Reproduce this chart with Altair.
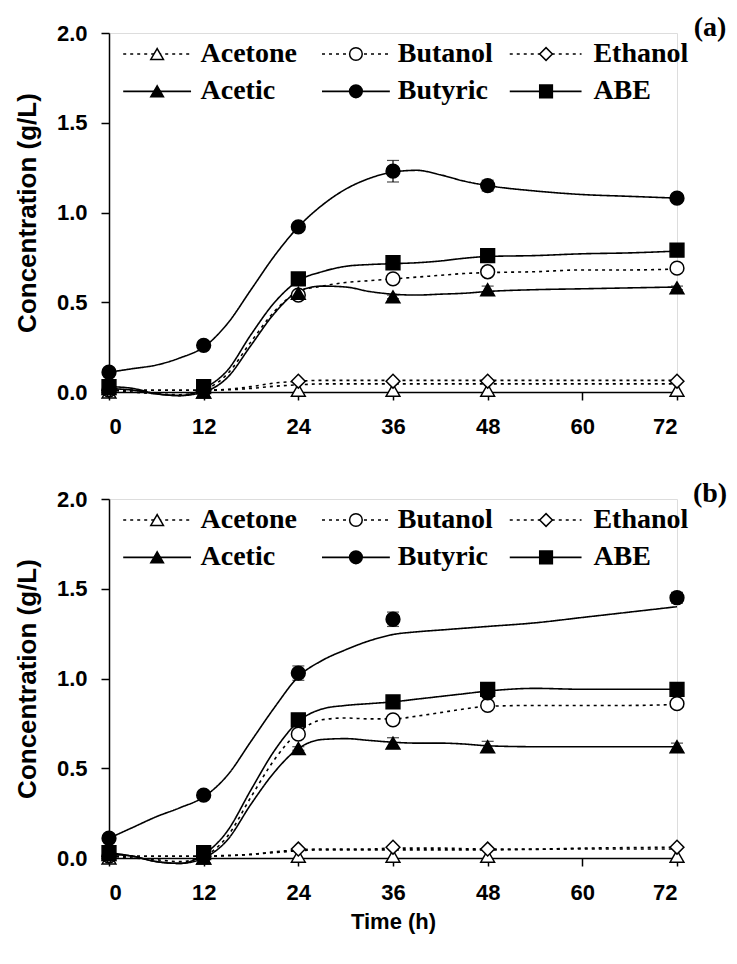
import altair as alt
import pandas as pd

# ---------------- data ----------------
series = ["Acetone", "Butanol", "Ethanol", "Acetic", "Butyric", "ABE"]
times = [0, 12, 24, 36, 48, 72]

# measured points, panel (a)
a_acetone = [0.00, 0.00, 0.01, 0.01, 0.01, 0.01]
a_butanol = [0.01, 0.01, 0.54, 0.63, 0.67, 0.69]
a_ethanol = [0.01, 0.01, 0.06, 0.06, 0.06, 0.06]
a_acetic = [0.02, 0.00, 0.55, 0.53, 0.57, 0.58]
a_butyric = [0.11, 0.26, 0.92, 1.23, 1.15, 1.08]
a_abe = [0.03, 0.03, 0.63, 0.72, 0.76, 0.79]
a_butanol_err = [0.0, 0.0, 0.01, 0.02, 0.01, 0.01]
a_acetic_err = [0.0, 0.0, 0.01, 0.01, 0.02, 0.01]
a_butyric_err = [0.01, 0.01, 0.02, 0.06, 0.03, 0.02]
a_abe_err = [0.0, 0.01, 0.01, 0.02, 0.01, 0.02]

# measured points, panel (b)
b_acetone = [0.00, 0.00, 0.01, 0.01, 0.01, 0.01]
b_butanol = [0.01, 0.01, 0.69, 0.77, 0.85, 0.86]
b_ethanol = [0.01, 0.01, 0.05, 0.06, 0.05, 0.06]
b_acetic = [0.02, 0.00, 0.61, 0.64, 0.62, 0.62]
b_butyric = [0.11, 0.35, 1.03, 1.33, 0.92, 1.45]
b_abe = [0.03, 0.03, 0.77, 0.87, 0.94, 0.94]
b_butanol_err = [0.0, 0.0, 0.01, 0.01, 0.01, 0.01]
b_acetic_err = [0.0, 0.0, 0.01, 0.03, 0.03, 0.02]
b_butyric_err = [0.01, 0.02, 0.04, 0.04, 0.02, 0.03]
b_abe_err = [0.0, 0.01, 0.01, 0.02, 0.02, 0.02]

# fitted curves
fit_t = [0, 3, 6, 9, 12, 15, 18, 21, 24, 27, 30, 33, 36, 39, 42, 45, 48, 54, 60, 66, 72]
a_fit_acetone = [0.01, 0.01, 0.01, 0.01, 0.01, 0.012, 0.02, 0.032, 0.04, 0.045, 0.045, 0.045, 0.045, 0.045, 0.045, 0.045, 0.045, 0.045, 0.045, 0.045, 0.045]
a_fit_butanol = [0.01, 0.00, -0.01, -0.015, 0.01, 0.10, 0.28, 0.45, 0.56, 0.59, 0.61, 0.62, 0.63, 0.64, 0.65, 0.66, 0.665, 0.67, 0.68, 0.68, 0.685]
a_fit_ethanol = [0.01, 0.01, 0.01, 0.01, 0.01, 0.015, 0.03, 0.05, 0.06, 0.065, 0.065, 0.065, 0.065, 0.065, 0.065, 0.065, 0.065, 0.065, 0.065, 0.065, 0.065]
a_fit_acetic = [0.02, 0.01, -0.01, -0.02, 0.00, 0.08, 0.26, 0.44, 0.56, 0.59, 0.585, 0.56, 0.545, 0.54, 0.545, 0.55, 0.56, 0.57, 0.575, 0.58, 0.585]
a_fit_butyric = [0.11, 0.13, 0.15, 0.19, 0.25, 0.38, 0.57, 0.76, 0.92, 1.04, 1.13, 1.19, 1.225, 1.235, 1.21, 1.175, 1.15, 1.12, 1.10, 1.09, 1.08]
a_fit_abe = [0.03, 0.02, -0.01, -0.02, 0.02, 0.12, 0.32, 0.50, 0.62, 0.67, 0.70, 0.71, 0.715, 0.72, 0.73, 0.745, 0.755, 0.76, 0.77, 0.775, 0.785]

b_fit_acetone = [0.01, 0.01, 0.01, 0.01, 0.01, 0.012, 0.02, 0.03, 0.04, 0.045, 0.045, 0.045, 0.045, 0.045, 0.045, 0.045, 0.045, 0.048, 0.05, 0.05, 0.05]
b_fit_butanol = [0.01, 0.00, -0.01, -0.02, 0.01, 0.12, 0.34, 0.55, 0.70, 0.77, 0.78, 0.775, 0.775, 0.79, 0.81, 0.83, 0.845, 0.85, 0.85, 0.85, 0.855]
b_fit_ethanol = [0.01, 0.01, 0.01, 0.01, 0.01, 0.015, 0.02, 0.035, 0.045, 0.05, 0.05, 0.05, 0.055, 0.055, 0.055, 0.052, 0.05, 0.05, 0.055, 0.058, 0.06]
b_fit_acetic = [0.02, 0.01, -0.02, -0.03, 0.00, 0.10, 0.30, 0.48, 0.61, 0.66, 0.665, 0.655, 0.645, 0.64, 0.64, 0.635, 0.625, 0.62, 0.62, 0.62, 0.62]
b_fit_butyric = [0.11, 0.17, 0.23, 0.28, 0.34, 0.46, 0.65, 0.84, 1.01, 1.10, 1.16, 1.21, 1.245, 1.26, 1.27, 1.28, 1.29, 1.31, 1.34, 1.37, 1.40]
b_fit_abe = [0.03, 0.01, -0.02, -0.03, 0.02, 0.15, 0.38, 0.60, 0.76, 0.83, 0.85, 0.86, 0.87, 0.885, 0.90, 0.915, 0.93, 0.945, 0.94, 0.94, 0.94]

x_ticks = [0, 12, 24, 36, 48, 60, 72]
y_ticks = [0.0, 0.5, 1.0, 1.5, 2.0]

# legend layout (data space of each panel)
legend_rows = [1.883, 1.675]
legend_cols = [(1.8, 10.4, 6.1, 11.6), (27.0, 35.6, 31.3, 36.6), (50.8, 59.9, 55.4, 61.4)]

# ---------------- styles ----------------
SHAPES = ["triangle-up", "circle", "diamond", "triangle-up", "circle", "square"]
FILLS = ["white", "white", "white", "black", "black", "black"]
DASHES = [[3, 4], [3, 4], [3, 4], [1, 0], [1, 0], [1, 0]]
SANS = "Liberation Sans"
SERIF = "Liberation Serif"

shape_scale = alt.Scale(domain=series, range=SHAPES)
fill_scale = alt.Scale(domain=series, range=FILLS)
dash_scale = alt.Scale(domain=series, range=DASHES)

W, H = 568, 359


def long_points(vals, errs):
    rows = []
    for s, v in zip(series, vals):
        e = errs.get(s, [0] * len(times))
        for t, y, err in zip(times, v, e):
            rows.append({"series": s, "t": t, "y": y, "lo": y - err, "hi": y + err, "err": err})
    return pd.DataFrame(rows)


def long_fit(vals):
    rows = []
    for s, v in zip(series, vals):
        for t, y in zip(fit_t, v):
            rows.append({"series": s, "t": t, "y": y})
    return pd.DataFrame(rows)


legend_rows_data = []
for i, s in enumerate(series):
    r = legend_rows[i // 3]
    c = legend_cols[i % 3]
    legend_rows_data.append({"series": s, "x0": c[0], "x1": c[1], "xs": c[2], "xt": c[3], "ly": r})
legend_df = pd.DataFrame(legend_rows_data)


def panel(points, fits, tag, show_xtitle):
    xs = alt.Scale(domain=[0, 72], nice=False)
    ys = alt.Scale(domain=[0, 2], nice=False)
    x_axis = alt.Axis(values=x_ticks, title="Time (h)" if show_xtitle else None, grid=False,
                      labelFont=SANS, labelFontSize=22, labelFontWeight="bold", labelColor="black",
                      labelPadding=16, tickSize=8, tickWidth=1.5, tickColor="black",
                      domainColor="black", domainWidth=1.5,
                      titleFont=SANS, titleFontSize=22, titleFontWeight="bold", titleColor="black",
                      titlePadding=8)
    y_axis = alt.Axis(values=y_ticks, format=".1f", title="Concentration (g/L)", grid=False,
                      labelFont=SANS, labelFontSize=22, labelFontWeight="bold", labelColor="black",
                      labelPadding=14, tickSize=8, tickWidth=1.5, tickColor="black",
                      domainColor="black", domainWidth=1.5,
                      titleFont=SANS, titleFontSize=26, titleFontWeight="bold", titleColor="black",
                      titlePadding=16)

    lines = alt.Chart(fits).mark_line(interpolate="monotone", color="black", strokeWidth=1.6).encode(
        x=alt.X("t:Q", scale=xs, axis=x_axis),
        y=alt.Y("y:Q", scale=ys, axis=y_axis),
        detail="series:N",
        strokeDash=alt.StrokeDash("series:N", scale=dash_scale, legend=None),
    )
    errdata = points[points["err"] > 0]
    err_rule = alt.Chart(errdata).mark_rule(color="black", strokeWidth=1.2).encode(
        x="t:Q", y="lo:Q", y2="hi:Q")
    cap_lo = alt.Chart(errdata).mark_tick(orient="horizontal", color="black", thickness=1.2, size=12).encode(
        x="t:Q", y="lo:Q")
    cap_hi = alt.Chart(errdata).mark_tick(orient="horizontal", color="black", thickness=1.2, size=12).encode(
        x="t:Q", y="hi:Q")
    pts = alt.Chart(points).mark_point(filled=True, stroke="black", strokeWidth=1.5, size=190, opacity=1).encode(
        x="t:Q", y="y:Q",
        shape=alt.Shape("series:N", scale=shape_scale, legend=None),
        fill=alt.Fill("series:N", scale=fill_scale, legend=None),
    )
    leg_line = alt.Chart(legend_df).mark_rule(color="black", strokeWidth=1.6).encode(
        x="x0:Q", x2="x1:Q", y="ly:Q",
        strokeDash=alt.StrokeDash("series:N", scale=dash_scale, legend=None),
    )
    leg_pt = alt.Chart(legend_df).mark_point(filled=True, stroke="black", strokeWidth=1.5, size=160, opacity=1).encode(
        x="xs:Q", y="ly:Q",
        shape=alt.Shape("series:N", scale=shape_scale, legend=None),
        fill=alt.Fill("series:N", scale=fill_scale, legend=None),
    )
    leg_txt = alt.Chart(legend_df).mark_text(align="left", baseline="middle", font=SERIF, fontSize=28,
                                             fontWeight="bold", color="black").encode(
        x="xt:Q", y="ly:Q", text="series:N")
    tag_txt = alt.Chart(pd.DataFrame({"tag": [tag]})).mark_text(
        align="center", baseline="middle", font=SERIF, fontSize=28, fontWeight="bold", color="black").encode(
        x=alt.value(601), y=alt.value(-5), text="tag:N")
    return alt.layer(lines, err_rule, cap_lo, cap_hi, pts, leg_line, leg_pt, leg_txt, tag_txt).properties(
        width=W, height=H)


pa = long_points([a_acetone, a_butanol, a_ethanol, a_acetic, a_butyric, a_abe],
                 {"Butanol": a_butanol_err, "Acetic": a_acetic_err, "Butyric": a_butyric_err, "ABE": a_abe_err})
pb = long_points([b_acetone, b_butanol, b_ethanol, b_acetic, b_butyric, b_abe],
                 {"Butanol": b_butanol_err, "Acetic": b_acetic_err, "Butyric": b_butyric_err, "ABE": b_abe_err})
fa = long_fit([a_fit_acetone, a_fit_butanol, a_fit_ethanol, a_fit_acetic, a_fit_butyric, a_fit_abe])
fb = long_fit([b_fit_acetone, b_fit_butanol, b_fit_ethanol, b_fit_acetic, b_fit_butyric, b_fit_abe])

chart = alt.vconcat(
    panel(pa, fa, "(a)", False),
    panel(pb, fb, "(b)", True),
    spacing=41,
).properties(
    padding={"left": 5, "top": 5, "right": 0, "bottom": 5}
).configure_view(stroke=None).configure(background="white")

chart.save("out.html", embed_options={"renderer": "svg", "actions": False})
